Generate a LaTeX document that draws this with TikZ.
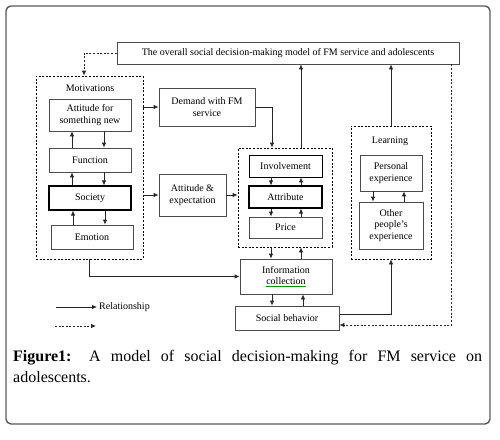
\documentclass[tikz,border=0pt]{standalone}
\usepackage{fontspec}
\setmainfont{Liberation Serif}
\usetikzlibrary{arrows.meta}
\definecolor{boxgray}{gray}{0.3}
\definecolor{framegray}{gray}{0.35}
\tikzset{
  x=1pt, y=-1pt,
  box/.style={draw=boxgray, line width=0.8pt, inner sep=1pt, align=center,
    font=\fontsize{10}{11.5}\selectfont},
  thickbox/.style={box, draw=black, line width=1.05pt},
  grpbox/.style={draw=black, line width=0.8pt, dash pattern=on 2pt off 1.6pt},
  lbl/.style={font=\fontsize{10}{11.5}\selectfont, inner sep=0pt},
  arr/.style={draw=black!85, line width=0.8pt, -{Latex[length=5pt,width=4.5pt]}},
  darr/.style={draw=black!85, line width=0.8pt, dash pattern=on 2pt off 1.6pt, -{Latex[length=5pt,width=4.5pt]}},
}
\begin{document}
\begin{tikzpicture}
\useasboundingbox (0,0) rectangle (500,439);
\draw[framegray, line width=1.4pt, rounded corners=5pt] (6,6) rectangle (490,424);

% top box
\node[box, minimum width=342pt, minimum height=22pt] (top) at (288,53)
  {The overall social decision-making model of FM service and adolescents};

% Motivations group
\node[grpbox, minimum width=107pt, minimum height=183pt] (mot) at (89.5,167.5) {};
\node[lbl] (motl) at (90,88) {Motivations};
\node[box, minimum width=82pt, minimum height=32pt] (att) at (90,115) {Attitude for\\something new};
\node[box, minimum width=82pt, minimum height=24pt] (fun) at (90,160) {Function};
\node[thickbox, minimum width=82pt, minimum height=24pt] (soc) at (90,198) {Society};
\node[box, minimum width=82pt, minimum height=24pt] (emo) at (92,237) {Emotion};

% middle boxes
\node[box, minimum width=96pt, minimum height=38pt] (dem) at (207,107) {Demand with FM\\service};
\node[box, minimum width=67pt, minimum height=42pt] (ae) at (192.5,195) {Attitude \&\\expectation};

% Involvement group
\node[grpbox, minimum width=94pt, minimum height=99pt] (grp) at (285,197.5) {};
\node[thickbox, line width=0.9pt, minimum width=73pt, minimum height=22pt] (inv) at (285.5,166) {Involvement};
\node[thickbox, minimum width=73pt, minimum height=22pt] (atr) at (285.5,197) {Attribute};
\node[box, minimum width=73pt, minimum height=21pt] (pri) at (285.5,227.5) {Price};

\node[box, minimum width=92pt, minimum height=35pt] (inf) at (286,276.5)
  {Information\\\textcolor{green!55!black}{\underline{\textcolor{black}{collection}}}};
\node[box, minimum width=104pt, minimum height=24pt] (sb) at (287,318) {Social behavior};

% Learning group
\node[grpbox, minimum width=80pt, minimum height=133pt] (lrn) at (391,192.5) {};
\node[lbl] (lrnl) at (390,141) {Learning};
\node[box, minimum width=62pt, minimum height=36pt] (per) at (391,173) {Personal\\experience};
\node[box, minimum width=64pt, minimum height=47pt] (oth) at (391,225.5) {Other\\people's\\experience};

% Motivations stack arrows
\draw[arr] ([xshift=-18pt]fun.north) -- ([xshift=-18pt]att.south);
\draw[arr] ([xshift=14pt]att.south) -- ([xshift=14pt]fun.north);
\draw[arr] ([xshift=-18pt]soc.north) -- ([xshift=-18pt]fun.south);
\draw[arr] ([xshift=14pt]fun.south) -- ([xshift=14pt]soc.north);
\draw[arr] ([xshift=-19pt]emo.north) -- ([xshift=-17pt]soc.south);
\draw[arr] ([xshift=15pt]soc.south) -- ([xshift=13pt]emo.north);

% group stack arrows
\draw[arr] ([xshift=-14.5pt]inv.south) -- ([xshift=-14.5pt]atr.north);
\draw[arr] ([xshift=15.5pt]atr.north) -- ([xshift=15.5pt]inv.south);
\draw[arr] ([xshift=-14.5pt]atr.south) -- ([xshift=-14.5pt]pri.north);
\draw[arr] ([xshift=15.5pt]pri.north) -- ([xshift=15.5pt]atr.south);
\draw[arr] ([xshift=-14pt]grp.south) -- ([xshift=-15pt]inf.north);
\draw[arr] ([xshift=15pt]inf.north) -- ([xshift=16pt]grp.south);
\draw[arr] ([xshift=-14pt]inf.south) -- ([xshift=-15pt]sb.north);
\draw[arr] ([xshift=16pt]sb.north) -- ([xshift=17pt]inf.south);

% learning stack arrows
\draw[arr] ([xshift=-18pt]per.south) -- ([xshift=-18pt]oth.north);
\draw[arr] ([xshift=13pt]oth.north) -- ([xshift=13pt]per.south);

% main connectors
\draw[arr] (mot.east |- dem.west) -- (dem.west);
\draw[arr] (dem.east) -| ([xshift=-13pt]grp.north);
\draw[arr] (mot.east |- ae.west) -- (ae.west);
\draw[arr] (ae.east) -- (ae.east -| grp.west);
\draw[arr] ([xshift=16pt]grp.north) -- ([xshift=16pt]grp.north |- top.south);
\draw[arr] (mot.south) |- (inf.west);
\draw[arr] ([yshift=4pt]sb.east) -| (lrn.south);
\draw[arr] (lrn.north) -- (lrn.north |- top.south);
\draw[darr] (top.west) -| ([xshift=-5.5pt]mot.north);
\draw[darr] ([xshift=-8pt]top.south east) |- ([yshift=-7pt]sb.east);

% legend
\coordinate (l1a) at (56,307);
\coordinate (l1b) at (97,307);
\coordinate (l2a) at (55,326);
\coordinate (l2b) at (96,326);
\draw[arr] (l1a) -- (l1b);
\node[lbl, anchor=west] (rel) at (99,307) {Relationship};
\draw[darr] (l2a) -- (l2b);

% caption
\node[anchor=base west, text width=469pt, align=justify, inner sep=0pt,
  font=\fontsize{16}{21}\selectfont] (cap) at (13,361)
  {\hyphenpenalty=10000 \textbf{Figure1:} A model of social decision-making for FM service on\linebreak adolescents.};
\end{tikzpicture}
\end{document}
